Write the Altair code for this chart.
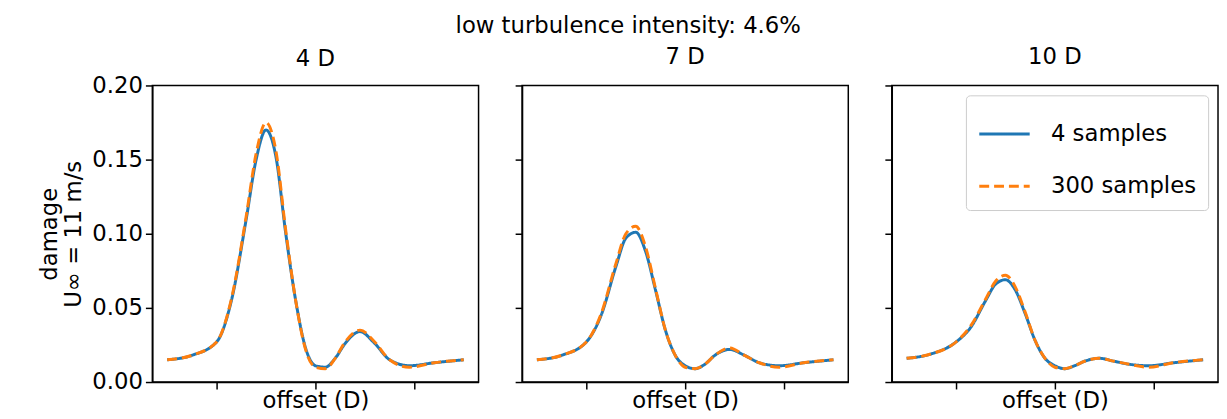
import altair as alt
import pandas as pd

offset = [-1.5, -1.25, -1.0, -0.85, -0.7, -0.6, -0.5, -0.4, -0.3, -0.2, -0.1,
          0.0, 0.1, 0.2, 0.3, 0.45, 0.6, 0.75, 0.95, 1.2, 1.5]

d4_4 = [0.015, 0.018, 0.027, 0.055, 0.110, 0.150, 0.170, 0.152, 0.100, 0.055, 0.023,
        0.011, 0.010, 0.016, 0.026, 0.034, 0.026, 0.015, 0.011, 0.013, 0.015]
d4_300 = [0.015, 0.018, 0.027, 0.056, 0.112, 0.154, 0.175, 0.156, 0.102, 0.055, 0.022,
          0.010, 0.009, 0.016, 0.027, 0.035, 0.027, 0.015, 0.010, 0.013, 0.015]
d7_4 = [0.015, 0.018, 0.027, 0.045, 0.078, 0.097, 0.101, 0.088, 0.062, 0.035, 0.018,
        0.011, 0.009, 0.012, 0.018, 0.022, 0.018, 0.013, 0.011, 0.013, 0.015]
d7_300 = [0.015, 0.018, 0.027, 0.046, 0.080, 0.100, 0.105, 0.091, 0.063, 0.035, 0.018,
          0.010, 0.009, 0.012, 0.018, 0.023, 0.018, 0.013, 0.010, 0.013, 0.015]
d10_4 = [0.016, 0.019, 0.027, 0.037, 0.055, 0.066, 0.069, 0.062, 0.046, 0.028, 0.016,
         0.011, 0.009, 0.011, 0.014, 0.016, 0.014, 0.012, 0.011, 0.013, 0.015]
d10_300 = [0.016, 0.019, 0.027, 0.038, 0.056, 0.068, 0.072, 0.064, 0.047, 0.028, 0.016,
           0.010, 0.009, 0.011, 0.014, 0.016, 0.014, 0.012, 0.010, 0.013, 0.015]

panels = ["4 D", "7 D", "10 D"]
series = ["4 samples", "300 samples"]
values = {"4 D": (d4_4, d4_300), "7 D": (d7_4, d7_300), "10 D": (d10_4, d10_300)}

rows = []
for p in panels:
    for s, ys in zip(series, values[p]):
        for x, y in zip(offset, ys):
            rows.append({"panel": p, "series": s, "offset": x, "damage": y})
df = pd.DataFrame(rows)

FONT = "DejaVu Sans"
FS = 23


def panel_chart(name, first, last):
    y_axis = alt.Axis(values=[0, 0.05, 0.1, 0.15, 0.2], format=".2f", grid=False,
                      labels=first, tickSize=7, labelFontSize=FS, labelPadding=3,
                      titleFontSize=FS, titleFontWeight="normal", titlePadding=6)
    legend = None
    if last:
        legend = alt.Legend(orient="top-right", title=None, labelFontSize=FS,
                            symbolType="stroke", symbolStrokeWidth=3, symbolSize=2600,
                            fillColor="white", strokeColor="#cccccc", cornerRadius=4,
                            padding=12, rowPadding=14, offset=10, labelLimit=300,
                            labelOffset=20)
    return (
        alt.Chart(df[df.panel == name])
        .mark_line(strokeWidth=3, interpolate="monotone")
        .encode(
            x=alt.X("offset:Q", scale=alt.Scale(domain=[-1.65, 1.65], nice=False),
                    axis=alt.Axis(values=[-1, 0, 1], labels=False, grid=False,
                                  tickSize=7, title="offset (D)", titleFontSize=FS,
                                  titleFontWeight="normal", titlePadding=0)),
            y=alt.Y("damage:Q", scale=alt.Scale(domain=[0, 0.2], nice=False),
                    axis=y_axis,
                    title=["damage", "U∞ = 11 m/s"] if first else None),
            color=alt.Color("series:N", sort=series,
                            scale=alt.Scale(domain=series, range=["#1f77b4", "#ff7f0e"]),
                            legend=legend),
            strokeDash=alt.StrokeDash("series:N", sort=series,
                                      scale=alt.Scale(domain=series, range=[[1, 0], [10, 5]]),
                                      legend=legend),
            order=alt.Order("series:N", sort="descending"),
        )
        .properties(width=330, height=300,
                    title=alt.TitleParams(name, fontSize=FS, fontWeight="normal",
                                          offset=4 if first else 16))
    )


chart = (
    alt.hconcat(
        panel_chart("4 D", True, False),
        panel_chart("7 D", False, False),
        panel_chart("10 D", False, True),
        spacing=34,
    )
    .resolve_legend(color="independent", strokeDash="independent")
    .properties(title=alt.TitleParams("low turbulence intensity: 4.6%", fontSize=FS,
                                      fontWeight="normal", anchor="middle", offset=8),
                padding={"left": 30, "top": 4, "right": 0, "bottom": 0})
    .configure(font=FONT)
    .configure_view(stroke="black", strokeWidth=1.5)
    .configure_axis(domainColor="black", tickColor="black", labelColor="black",
                    titleColor="black", domainWidth=1.5, tickWidth=1.5)
    .configure_title(color="black")
)

chart.save("out.html", embed_options={"renderer": "svg", "actions": False})
